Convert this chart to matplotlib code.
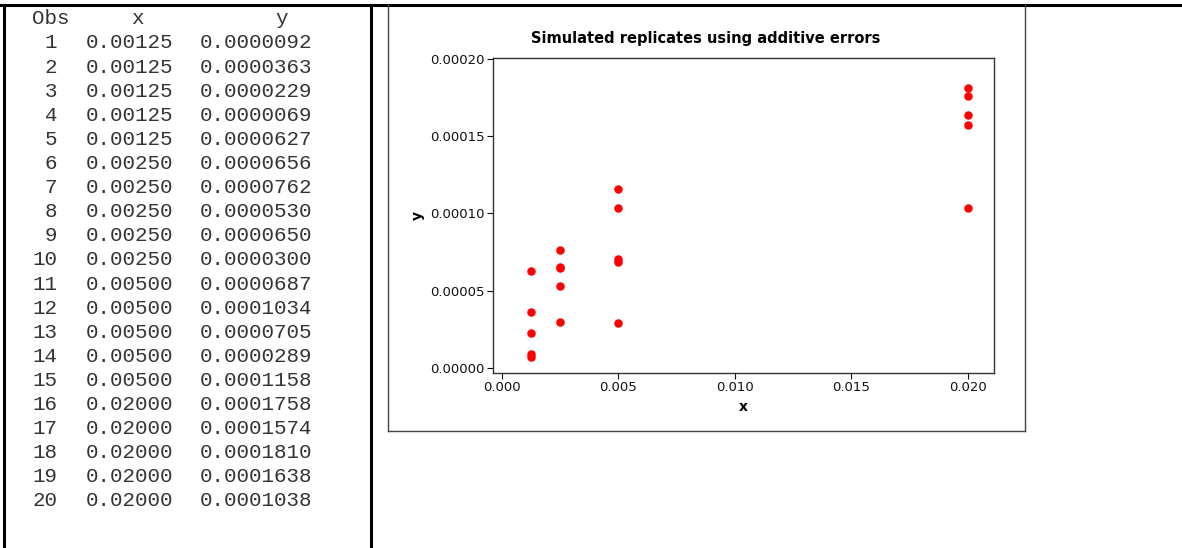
import matplotlib.pyplot as plt
from matplotlib.lines import Line2D
from matplotlib.ticker import FormatStrFormatter

# simulated replicates (additive errors)
obs = list(range(1, 21))
x = [0.00125] * 5 + [0.00250] * 5 + [0.00500] * 5 + [0.02000] * 5
y = [0.0000092, 0.0000363, 0.0000229, 0.0000069, 0.0000627,
     0.0000656, 0.0000762, 0.0000530, 0.0000650, 0.0000300,
     0.0000687, 0.0001034, 0.0000705, 0.0000289, 0.0001158,
     0.0001758, 0.0001574, 0.0001810, 0.0001638, 0.0001038]

W, H = 1182, 548
fig = plt.figure(figsize=(W / 100, H / 100), dpi=100)

def px(xp, yp):
    return xp / W, 1 - yp / H

# frame lines
def line(x0, y0, x1, y1, lw, c):
    a, b = px(x0, y0)
    cc, d = px(x1, y1)
    fig.add_artist(Line2D([a, cc], [b, d], lw=lw, color=c, transform=fig.transFigure))

line(0, 5, W, 5, 2.2, 'black')
line(4, 5, 4, H, 2.2, 'black')
line(370.5, 5, 370.5, H, 2.2, 'black')
line(388, 5, 388, 431, 1.0, '#444444')
line(388, 431, 1025, 431, 1.0, '#444444')
line(1025, 5, 1025, 431, 1.0, '#444444')

# listing on the left
mono = dict(family='Liberation Mono', fontsize=15, color='#333333', va='center')
fig.text(*px(32, 18), 'Obs', ha='left', **mono)
fig.text(*px(137, 18), 'x', ha='center', **mono)
fig.text(*px(282, 18), 'y', ha='center', **mono)
for i, (o, xv, yv) in enumerate(zip(obs, x, y)):
    yp = 43 + i * 24.1
    fig.text(*px(57, yp), str(o), ha='right', **mono)
    fig.text(*px(86, yp), f'{xv:.5f}', ha='left', **mono)
    fig.text(*px(200, yp), f'{yv:.7f}', ha='left', **mono)

# scatter plot
ax = fig.add_axes([493 / W, 1 - 373 / H, (994 - 493) / W, (373 - 58) / H])
ax.scatter(x, y, s=26, color='red', zorder=3)
ax.set_xlim(-0.000386, 0.02112)
ax.set_ylim(-0.0000032, 0.0002006)
ax.set_xticks([0.0, 0.005, 0.010, 0.015, 0.020])
ax.set_yticks([0.0, 0.00005, 0.00010, 0.00015, 0.00020])
ax.xaxis.set_major_formatter(FormatStrFormatter('%.3f'))
ax.yaxis.set_major_formatter(FormatStrFormatter('%.5f'))
ax.tick_params(labelsize=9.5, length=4, width=0.8, colors='#111111', pad=2)
for s in ax.spines.values():
    s.set_color('#333333')
    s.set_linewidth(1.0)
ax.set_xlabel('x', fontsize=10, fontweight='bold', labelpad=4)
ax.set_ylabel('y', fontsize=10, fontweight='bold', labelpad=4)

# title sits centred on the graph frame, not on the axes
fig.text(*px(706, 38), 'Simulated replicates using additive errors',
         fontsize=10.5, fontweight='bold', ha='center', va='center')

fig.savefig('out.png', dpi=100)
